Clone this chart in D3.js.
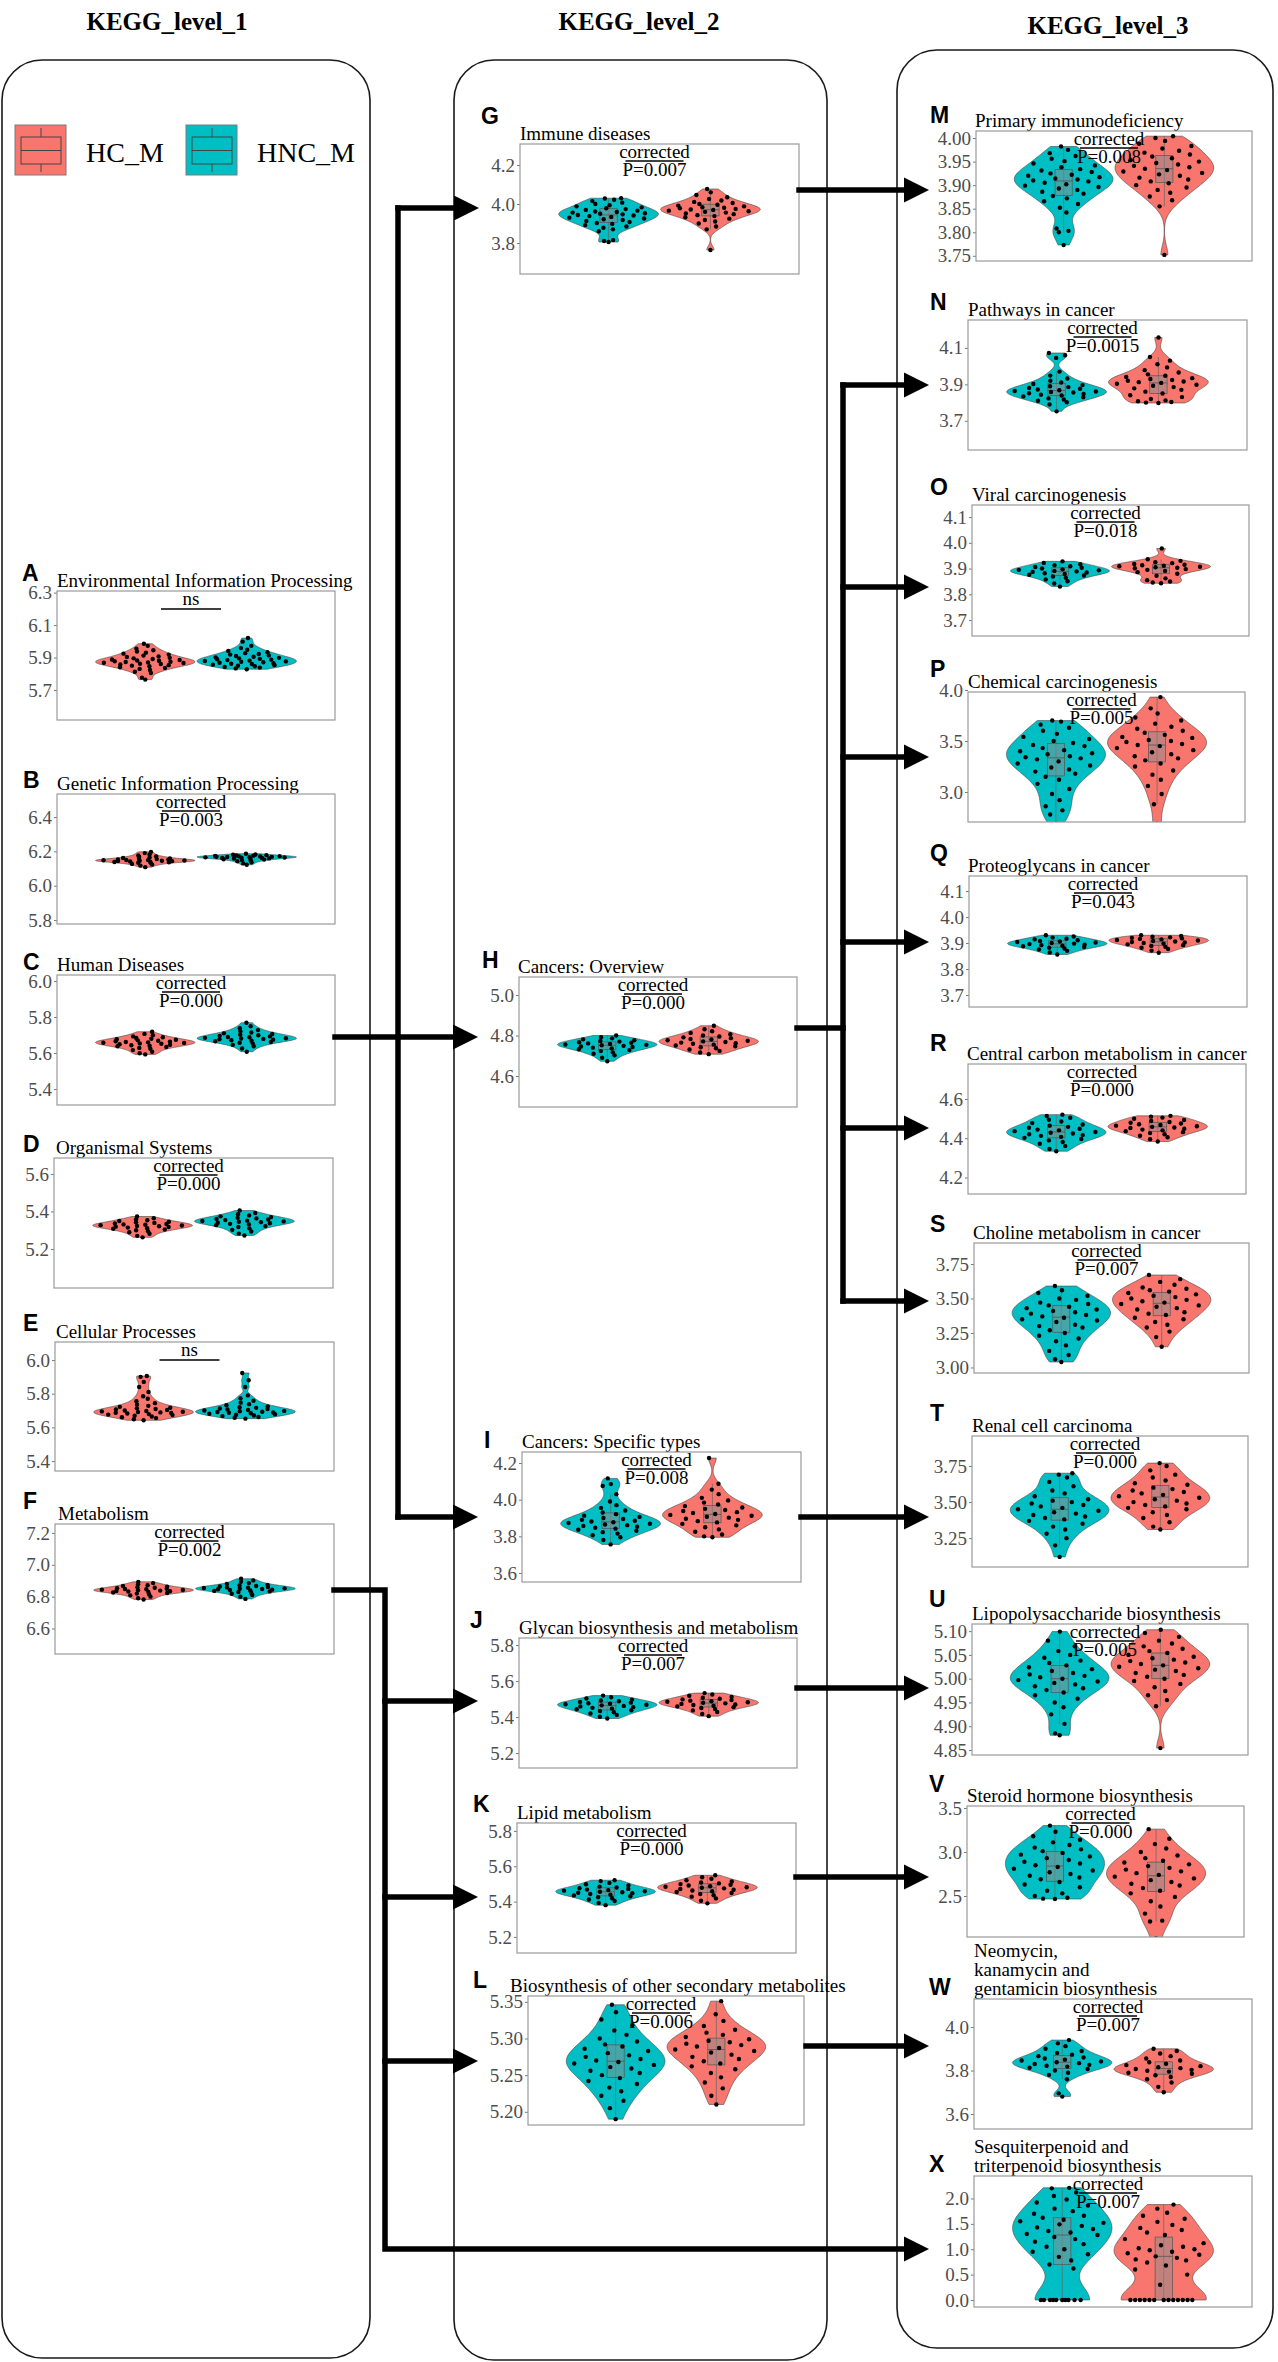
<!DOCTYPE html>
<html>
<head>
<meta charset="utf-8">
<script src="https://cdn.jsdelivr.net/npm/d3@7"></script>
<style>
  body { margin: 0; background: #fff; }
  text { font-family: "Liberation Serif", "Times New Roman", serif; }
</style>
</head>
<body>
<div id="chart"></div>
<script>
// KEGG level 1 / 2 / 3 violin panels, HC_M vs HNC_M

// ---------- data ----------
const panelIds = "ABCDEFGHIJKLMNOPQRSTUVWX".split("")
const panelTitles = [
  "Environmental Information Processing", "Genetic Information Processing", "Human Diseases",
  "Organismal Systems", "Cellular Processes", "Metabolism",
  "Immune diseases", "Cancers: Overview", "Cancers: Specific types",
  "Glycan biosynthesis and metabolism", "Lipid metabolism", "Biosynthesis of other secondary metabolites",
  "Primary immunodeficiency", "Pathways in cancer", "Viral carcinogenesis", "Chemical carcinogenesis",
  "Proteoglycans in cancer", "Central carbon metabolism in cancer", "Choline metabolism in cancer",
  "Renal cell carcinoma", "Lipopolysaccharide biosynthesis", "Steroid hormone biosynthesis",
  "Neomycin,\nkanamycin and\ngentamicin biosynthesis", "Sesquiterpenoid and\ntriterpenoid biosynthesis"
]
const pLabels = ["ns", "0.003", "0.000", "0.000", "ns", "0.002",
  "0.007", "0.000", "0.008", "0.007", "0.000", "0.006",
  "0.008", "0.0015", "0.018", "0.005", "0.043", "0.000", "0.007", "0.000", "0.005", "0.000", "0.007", "0.007"]
// which KEGG level each panel belongs to
const panelLevel = [1,1,1,1,1,1, 2,2,2,2,2,2, 3,3,3,3,3,3,3,3,3,3,3,3]
const groupNames = ["HC_M", "HNC_M"]

const yDomains = [
  [5.515, 6.31], [5.777, 6.534], [5.311, 6.033], [4.992, 5.685], [5.341, 6.107], [6.44, 7.256],
  [3.641, 4.308], [4.447, 5.089], [3.551, 4.26], [5.117, 5.839], [5.109, 5.845], [5.182, 5.358],
  [3.739, 4.015], [3.54, 4.253], [3.638, 4.147], [2.706, 3.98], [3.654, 4.158], [4.116, 4.778],
  [2.96, 3.902], [3.05, 3.958], [4.8395, 5.115], [2.034, 3.523], [3.531, 4.129], [-0.138, 2.443]
]
const yTicks = [
  [5.7, 5.9, 6.1, 6.3], [5.8, 6.0, 6.2, 6.4], [5.4, 5.6, 5.8, 6.0], [5.2, 5.4, 5.6], [5.4, 5.6, 5.8, 6.0], [6.6, 6.8, 7.0, 7.2],
  [3.8, 4.0, 4.2], [4.6, 4.8, 5.0], [3.6, 3.8, 4.0, 4.2], [5.2, 5.4, 5.6, 5.8], [5.2, 5.4, 5.6, 5.8], [5.20, 5.25, 5.30, 5.35],
  [3.75, 3.80, 3.85, 3.90, 3.95, 4.00], [3.7, 3.9, 4.1], [3.7, 3.8, 3.9, 4.0, 4.1], [3.0, 3.5, 4.0], [3.7, 3.8, 3.9, 4.0, 4.1], [4.2, 4.4, 4.6],
  [3.00, 3.25, 3.50, 3.75], [3.25, 3.50, 3.75], [4.85, 4.90, 4.95, 5.00, 5.05, 5.10], [2.5, 3.0, 3.5], [3.6, 3.8, 4.0], [0.0, 0.5, 1.0, 1.5, 2.0]
]
const tickDecimals = [1,1,1,1,1,1, 1,1,1,1,1,2, 2,1,1,1,1,1,2,2,2,1,1,1]

// sample values (HC_M = hc, HNC_M = hnc)
const hcA = [5.764,5.776,5.805,5.812,5.823,5.83,5.836,5.84,5.846,5.85,5.853,5.857,5.86,5.862,5.866,5.868,5.87,5.872,5.874,5.877,5.88,5.882,5.885,5.888,5.891,5.895,5.898,5.903,5.907,5.912,5.918,5.924,5.93,5.937,5.945,5.955,5.972,5.985]
const hncA = [5.828,5.833,5.838,5.842,5.846,5.85,5.853,5.856,5.86,5.862,5.865,5.868,5.871,5.874,5.876,5.879,5.881,5.884,5.887,5.889,5.892,5.895,5.898,5.901,5.905,5.909,5.913,5.918,5.922,5.927,5.933,5.94,5.948,5.958,5.972,5.998,6.02]
const hcB = [6.108,6.117,6.123,6.127,6.131,6.134,6.136,6.138,6.14,6.141,6.143,6.144,6.145,6.146,6.147,6.148,6.149,6.15,6.152,6.153,6.155,6.157,6.159,6.161,6.164,6.167,6.171,6.176,6.182,6.19,6.197]
const hncB = [6.122,6.13,6.137,6.142,6.146,6.149,6.152,6.154,6.156,6.158,6.159,6.161,6.162,6.163,6.164,6.165,6.166,6.167,6.168,6.169,6.17,6.171,6.172,6.173,6.175,6.176,6.178,6.18,6.182,6.186]
const hcC = [5.592,5.598,5.607,5.616,5.623,5.628,5.633,5.637,5.64,5.643,5.646,5.648,5.651,5.653,5.655,5.657,5.659,5.661,5.663,5.665,5.668,5.67,5.673,5.676,5.679,5.683,5.687,5.692,5.698,5.706,5.718]
const hncC = [5.607,5.625,5.637,5.645,5.652,5.657,5.661,5.665,5.668,5.671,5.673,5.676,5.678,5.68,5.682,5.684,5.687,5.689,5.692,5.695,5.698,5.701,5.705,5.709,5.714,5.72,5.727,5.737,5.748,5.768]
const hcD = [5.262,5.27,5.281,5.289,5.295,5.3,5.304,5.308,5.311,5.314,5.317,5.319,5.321,5.323,5.325,5.327,5.329,5.331,5.333,5.336,5.339,5.342,5.345,5.349,5.353,5.358,5.364,5.373]
const hncD = [5.272,5.282,5.293,5.302,5.31,5.317,5.322,5.327,5.331,5.334,5.337,5.34,5.343,5.345,5.347,5.349,5.351,5.354,5.357,5.36,5.363,5.366,5.37,5.374,5.379,5.385,5.392,5.405]
const hcE = [5.642,5.648,5.655,5.66,5.665,5.669,5.673,5.676,5.679,5.682,5.685,5.687,5.689,5.691,5.693,5.695,5.697,5.7,5.703,5.706,5.709,5.713,5.717,5.722,5.728,5.735,5.744,5.755,5.77,5.785,5.81,5.84,5.87,5.9,5.905]
const hncE = [5.652,5.657,5.662,5.667,5.671,5.675,5.678,5.681,5.684,5.687,5.689,5.691,5.693,5.696,5.698,5.7,5.703,5.706,5.709,5.712,5.716,5.72,5.725,5.731,5.738,5.747,5.758,5.772,5.79,5.84,5.88,5.923]
const hcF = [6.782,6.79,6.8,6.808,6.814,6.819,6.823,6.826,6.829,6.832,6.834,6.836,6.838,6.84,6.842,6.844,6.846,6.848,6.85,6.853,6.856,6.859,6.863,6.867,6.872,6.878,6.885,6.893]
const hncF = [6.786,6.8,6.81,6.818,6.824,6.829,6.833,6.836,6.839,6.842,6.844,6.846,6.848,6.85,6.852,6.854,6.856,6.858,6.861,6.864,6.867,6.87,6.874,6.879,6.885,6.893,6.902,6.912]
const hcG = [3.764,3.87,3.885,3.9,3.91,3.918,3.925,3.932,3.938,3.943,3.948,3.952,3.956,3.96,3.963,3.966,3.969,3.972,3.975,3.978,3.981,3.984,3.988,3.992,3.996,4.0,4.005,4.011,4.018,4.026,4.035,4.046,4.06,4.077]
const hncG = [3.805,3.81,3.815,3.86,3.87,3.878,3.885,3.892,3.898,3.903,3.908,3.913,3.918,3.922,3.926,3.93,3.934,3.938,3.941,3.944,3.947,3.95,3.953,3.956,3.959,3.962,3.966,3.97,3.974,3.978,3.983,3.988,3.994,4.0,4.007,4.015,4.022,4.028,4.03]
const hcH = [4.708,4.716,4.724,4.731,4.737,4.742,4.747,4.751,4.755,4.759,4.762,4.765,4.768,4.771,4.774,4.777,4.78,4.783,4.787,4.791,4.795,4.8,4.806,4.813,4.821,4.831,4.848]
const hncH = [4.673,4.69,4.702,4.71,4.717,4.723,4.728,4.732,4.736,4.74,4.743,4.746,4.749,4.752,4.754,4.756,4.758,4.761,4.764,4.767,4.77,4.773,4.777,4.781,4.786,4.792,4.8]
const hcI = [3.795,3.8,3.81,3.825,3.838,3.85,3.86,3.868,3.876,3.883,3.89,3.896,3.902,3.907,3.912,3.917,3.922,3.927,3.932,3.938,3.944,3.95,3.957,3.965,3.974,3.984,3.996,4.01,4.03,4.055,4.087,4.227]
const hncI = [3.756,3.78,3.795,3.806,3.815,3.823,3.83,3.836,3.842,3.847,3.852,3.857,3.861,3.865,3.869,3.873,3.877,3.881,3.885,3.89,3.895,3.9,3.906,3.913,3.921,3.93,3.941,3.955,3.97,3.99,4.03,4.075,4.085,4.116]
const hcJ = [5.405,5.417,5.428,5.437,5.444,5.45,5.455,5.459,5.463,5.467,5.47,5.473,5.476,5.479,5.482,5.485,5.488,5.491,5.494,5.498,5.502,5.507,5.512,5.518,5.525,5.533]
const hncJ = [5.392,5.402,5.412,5.42,5.427,5.433,5.438,5.443,5.447,5.451,5.455,5.459,5.462,5.465,5.468,5.471,5.474,5.477,5.48,5.484,5.488,5.492,5.497,5.503,5.51,5.519]
const hcK = [5.39,5.405,5.418,5.428,5.436,5.443,5.449,5.454,5.459,5.463,5.467,5.471,5.475,5.478,5.481,5.484,5.487,5.491,5.495,5.499,5.503,5.508,5.514,5.521,5.529,5.538,5.549]
const hncK = [5.38,5.392,5.403,5.412,5.419,5.425,5.43,5.435,5.439,5.443,5.447,5.45,5.453,5.456,5.459,5.462,5.465,5.468,5.472,5.476,5.48,5.485,5.491,5.498,5.506,5.516,5.521]
const hcL = [5.21,5.222,5.232,5.24,5.247,5.253,5.258,5.262,5.266,5.269,5.272,5.275,5.278,5.281,5.283,5.285,5.287,5.289,5.291,5.293,5.295,5.297,5.299,5.302,5.305,5.308,5.312,5.317,5.324,5.333,5.351]
const hncL = [5.19,5.205,5.215,5.222,5.228,5.233,5.238,5.242,5.246,5.25,5.253,5.256,5.259,5.261,5.264,5.266,5.268,5.27,5.272,5.275,5.277,5.28,5.283,5.286,5.289,5.292,5.296,5.3,5.305,5.311,5.318,5.326,5.336,5.346]
const hcM = [3.752,3.855,3.868,3.876,3.884,3.89,3.895,3.9,3.904,3.908,3.912,3.916,3.92,3.923,3.926,3.929,3.932,3.935,3.938,3.941,3.944,3.947,3.95,3.953,3.957,3.961,3.965,3.969,3.973,3.978,3.983,3.988,3.994,4.0,4.004]
const hncM = [3.773,3.8,3.803,3.808,3.842,3.852,3.86,3.866,3.872,3.877,3.882,3.886,3.89,3.893,3.896,3.899,3.902,3.905,3.908,3.91,3.912,3.914,3.917,3.92,3.922,3.925,3.928,3.931,3.934,3.938,3.942,3.946,3.951,3.956,3.962,3.968,3.975,3.982]
const hcN = [3.798,3.8,3.803,3.807,3.812,3.82,3.83,3.84,3.85,3.86,3.87,3.878,3.885,3.892,3.898,3.903,3.908,3.912,3.916,3.92,3.924,3.929,3.934,3.94,3.947,3.955,3.965,3.978,3.993,4.01,4.03,4.05,4.157]
const hncN = [3.752,3.79,3.802,3.81,3.817,3.823,3.829,3.834,3.839,3.843,3.847,3.851,3.855,3.858,3.861,3.864,3.868,3.872,3.876,3.88,3.885,3.89,3.896,3.902,3.91,3.92,3.932,3.948,3.97,4.045,4.06,4.072]
const hcO = [3.843,3.846,3.85,3.855,3.862,3.872,3.88,3.886,3.891,3.895,3.898,3.901,3.903,3.905,3.907,3.909,3.911,3.913,3.915,3.918,3.921,3.925,3.93,3.936,3.978]
const hncO = [3.83,3.842,3.851,3.858,3.864,3.869,3.873,3.876,3.879,3.882,3.885,3.887,3.889,3.891,3.893,3.895,3.897,3.9,3.903,3.906,3.909,3.913,3.917,3.922,3.928]
const hcP = [2.69,2.88,2.98,3.06,3.12,3.17,3.21,3.25,3.28,3.31,3.33,3.35,3.37,3.39,3.41,3.43,3.45,3.46,3.47,3.49,3.5,3.51,3.53,3.54,3.56,3.58,3.6,3.62,3.64,3.67,3.7,3.73,3.77,3.82,3.93]
const hncP = [2.69,2.78,2.82,2.86,2.92,2.98,3.03,3.08,3.12,3.15,3.18,3.2,3.22,3.24,3.26,3.28,3.3,3.32,3.33,3.34,3.35,3.37,3.38,3.4,3.41,3.43,3.45,3.46,3.48,3.5,3.52,3.54,3.57,3.6,3.63,3.66,3.69,3.7]
const hcQ = [3.863,3.871,3.877,3.882,3.886,3.889,3.892,3.895,3.898,3.9,3.902,3.904,3.906,3.908,3.91,3.912,3.914,3.916,3.918,3.92,3.922,3.924,3.927,3.93]
const hncQ = [3.856,3.864,3.87,3.875,3.879,3.882,3.885,3.888,3.89,3.892,3.894,3.896,3.898,3.9,3.902,3.904,3.906,3.908,3.911,3.914,3.917,3.921,3.925,3.93]
const hcR = [4.383,4.395,4.405,4.413,4.42,4.426,4.431,4.436,4.44,4.444,4.448,4.452,4.455,4.458,4.461,4.464,4.467,4.471,4.475,4.479,4.483,4.488,4.493,4.499,4.505,4.51,4.514]
const hncR = [4.334,4.345,4.36,4.372,4.381,4.389,4.396,4.402,4.407,4.412,4.416,4.42,4.424,4.428,4.432,4.436,4.44,4.444,4.448,4.453,4.458,4.464,4.47,4.477,4.485,4.494,4.504,4.513,4.52]
const hcS = [3.15,3.22,3.26,3.29,3.31,3.33,3.35,3.36,3.38,3.39,3.4,3.42,3.43,3.44,3.45,3.46,3.47,3.48,3.49,3.5,3.51,3.52,3.53,3.54,3.55,3.56,3.57,3.58,3.6,3.62,3.64,3.67]
const hncS = [3.04,3.06,3.09,3.12,3.16,3.19,3.21,3.23,3.25,3.27,3.29,3.3,3.31,3.33,3.34,3.35,3.36,3.37,3.38,3.39,3.4,3.41,3.42,3.43,3.44,3.45,3.46,3.47,3.49,3.5,3.52,3.54,3.56,3.59]
const hcT = [3.31,3.33,3.36,3.39,3.41,3.43,3.45,3.46,3.47,3.48,3.49,3.5,3.51,3.52,3.53,3.54,3.55,3.56,3.57,3.58,3.59,3.6,3.62,3.63,3.65,3.67,3.69,3.72,3.75,3.77]
const hncT = [3.12,3.2,3.25,3.28,3.31,3.33,3.35,3.37,3.38,3.39,3.4,3.41,3.42,3.43,3.44,3.45,3.46,3.47,3.48,3.49,3.5,3.51,3.52,3.54,3.56,3.58,3.61,3.64,3.67,3.69,3.7]
const hcU = [4.854,4.942,4.955,4.965,4.974,4.982,4.989,4.995,5.0,5.004,5.008,5.012,5.016,5.019,5.022,5.025,5.028,5.031,5.034,5.037,5.04,5.043,5.046,5.05,5.054,5.058,5.063,5.068,5.074,5.08,5.088,5.096,5.103]
const hncU = [4.881,4.885,4.905,4.925,4.94,4.95,4.958,4.965,4.971,4.976,4.98,4.984,4.988,4.991,4.994,4.997,5.0,5.003,5.006,5.009,5.012,5.016,5.02,5.024,5.028,5.033,5.038,5.044,5.05,5.058,5.068,5.08,5.099]
const hcV = [2.02,2.21,2.22,2.3,2.38,2.44,2.49,2.53,2.56,2.59,2.62,2.64,2.66,2.68,2.7,2.72,2.74,2.76,2.78,2.8,2.82,2.84,2.86,2.88,2.9,2.93,2.96,3.0,3.04,3.09,3.15,3.26]
const hncV = [2.466,2.47,2.48,2.5,2.53,2.56,2.6,2.63,2.66,2.69,2.71,2.73,2.75,2.77,2.79,2.81,2.83,2.85,2.87,2.89,2.91,2.93,2.95,2.97,2.99,3.01,3.03,3.05,3.08,3.11,3.14,3.18,3.23,3.3]
const hcW = [3.7,3.725,3.745,3.76,3.77,3.778,3.785,3.79,3.795,3.799,3.803,3.807,3.811,3.815,3.82,3.825,3.831,3.838,3.846,3.855,3.866,3.878,3.89,3.9]
const hncW = [3.68,3.695,3.76,3.78,3.79,3.8,3.807,3.813,3.818,3.822,3.826,3.83,3.834,3.838,3.842,3.846,3.85,3.855,3.86,3.866,3.873,3.881,3.89,3.9,3.912,3.925,3.94]
const hcX = [0,0,0,0,0,0,0,0,0,0,0,0,0,0.3,0.5,0.6,0.68,0.74,0.78,0.8,0.83,0.86,0.89,0.92,0.95,0.98,1.0,1.02,1.05,1.08,1.12,1.2,1.28,1.33,1.38,1.42,1.48,1.54,1.6,1.66,1.72,1.8,1.88]
const hncX = [0,0,0,0,0,0,0,0,0,0,0.62,0.7,0.78,0.85,0.9,0.95,1.0,1.05,1.1,1.15,1.2,1.24,1.28,1.3,1.33,1.36,1.4,1.43,1.46,1.49,1.52,1.55,1.58,1.62,1.66,1.7,1.75,1.8,1.86,1.92,1.98,2.05,2.12,2.2,2.21]

const hcValues = [hcA,hcB,hcC,hcD,hcE,hcF,hcG,hcH,hcI,hcJ,hcK,hcL,hcM,hcN,hcO,hcP,hcQ,hcR,hcS,hcT,hcU,hcV,hcW,hcX]
const hncValues = [hncA,hncB,hncC,hncD,hncE,hncF,hncG,hncH,hncI,hncJ,hncK,hncL,hncM,hncN,hncO,hncP,hncQ,hncR,hncS,hncT,hncU,hncV,hncW,hncX]

// ---------- layout ----------
const W = 1278, H = 2362
const colors = { "HC_M": "#F8766D", "HNC_M": "#00BFC4" }

// plot box per panel: x0, x1, y0, y1, letter x, letter baseline, title x
const boxes = [
  [57,335,591,720,22,581,57], [57,335,794,924,23,788,57], [57,335,975,1105,23,970,57],
  [54,333,1158,1288,23,1152,56], [55,334,1342,1471,23,1331,56], [55,334,1524,1654,23,1509,58],
  [520,799,144,274,481,124,520], [519,797,977,1107,482,968,518], [522,801,1452,1582,484,1448,522],
  [519,797,1638,1768,470,1628,519], [517,796,1823,1953,473,1812,517], [528,804,1996,2125,473,1988,510],
  [976,1252,131,261,930,123,975], [968,1247,320,450,930,310,968], [972,1249,505,636,930,495,972],
  [968,1245,692,822,930,677,968], [969,1247,876,1007,930,861,968], [968,1246,1064,1194,930,1051,967],
  [974,1249,1243,1373,930,1232,973], [972,1248,1436,1567,930,1421,972], [972,1248,1624,1755,929,1607,972],
  [967,1244,1806,1937,929,1792,967], [974,1252,1999,2129,929,1995,974], [974,1252,2176,2307,929,2172,974]
]

// rounded frames around each KEGG level
const frames = [[2, 60, 370, 2358], [454, 60, 827, 2360], [897, 50, 1273, 2348]]
const levelTitles = [["KEGG_level_1", 167, 30], ["KEGG_level_2", 639, 30], ["KEGG_level_3", 1108, 34]]

// arrows between levels (polylines, last point is the arrow tip)
const links = [
  { pts: [[398, 208], [398, 1517]] },
  { pts: [[398, 208], [479, 208]], arrow: true },
  { pts: [[398, 1517], [478, 1517]], arrow: true },
  { pts: [[335, 1037], [478, 1037]], arrow: true },
  { pts: [[334, 1590], [385, 1590], [385, 2249], [929, 2249]], arrow: true },
  { pts: [[385, 1701], [478, 1701]], arrow: true },
  { pts: [[385, 1897], [478, 1897]], arrow: true },
  { pts: [[385, 2061], [478, 2061]], arrow: true },
  { pts: [[799, 190], [929, 190]], arrow: true },
  { pts: [[797, 1028], [843, 1028]] },
  { pts: [[843, 385], [843, 1301]] },
  { pts: [[843, 385], [929, 385]], arrow: true },
  { pts: [[843, 587], [929, 587]], arrow: true },
  { pts: [[843, 757], [929, 757]], arrow: true },
  { pts: [[843, 942], [929, 942]], arrow: true },
  { pts: [[843, 1128], [929, 1128]], arrow: true },
  { pts: [[843, 1301], [929, 1301]], arrow: true },
  { pts: [[801, 1517], [929, 1517]], arrow: true },
  { pts: [[797, 1688], [929, 1688]], arrow: true },
  { pts: [[796, 1877], [929, 1877]], arrow: true },
  { pts: [[806, 2046], [929, 2046]], arrow: true }
]

const svg = d3.select("#chart").append("svg")
  .attr("width", W).attr("height", H)
  .attr("viewBox", `0 0 ${W} ${H}`)

// frames
svg.selectAll(".frame").data(frames).enter().append("rect")
  .attr("class", "frame")
  .attr("x", d => d[0]).attr("y", d => d[1])
  .attr("width", d => d[2] - d[0]).attr("height", d => d[3] - d[1])
  .attr("rx", 40).attr("ry", 40)
  .attr("fill", "none").attr("stroke", "#1a1a1a").attr("stroke-width", 1.6)

svg.selectAll(".levelTitle").data(levelTitles).enter().append("text")
  .attr("x", d => d[1]).attr("y", d => d[2])
  .attr("text-anchor", "middle")
  .style("font-size", "25px").style("font-weight", "bold")
  .text(d => d[0])

// legend
const legendX = [15, 186]
groupNames.forEach(function(name, k) {
  const lx = legendX[k]
  const lg = svg.append("g")
  lg.append("rect").attr("x", lx).attr("y", 125).attr("width", 51).attr("height", 50)
    .attr("fill", colors[name]).attr("stroke", "#7a7a7a").attr("stroke-width", 1)
  lg.append("rect").attr("x", lx + 6).attr("y", 137).attr("width", 40).attr("height", 27)
    .attr("fill", "none").attr("stroke", "#444").attr("stroke-width", 1)
  lg.append("line").attr("x1", lx + 6).attr("x2", lx + 46).attr("y1", 150.5).attr("y2", 150.5)
    .attr("stroke", "#444").attr("stroke-width", 1)
  lg.append("line").attr("x1", lx + 26).attr("x2", lx + 26).attr("y1", 128).attr("y2", 137)
    .attr("stroke", "#444").attr("stroke-width", 1)
  lg.append("line").attr("x1", lx + 26).attr("x2", lx + 26).attr("y1", 164).attr("y2", 172)
    .attr("stroke", "#444").attr("stroke-width", 1)
  lg.append("text").attr("x", lx + 71).attr("y", 162)
    .style("font-size", "28px").text(name)
})

// ---------- helpers ----------
function bandwidth(v) {
  const s = d3.deviation(v)
  const iqr = d3.quantile(v, 0.75) - d3.quantile(v, 0.25)
  let lo = Math.min(s, iqr / 1.34)
  if (!lo) lo = s || 1
  return 0.9 * lo * Math.pow(v.length, -0.2)
}

function density(v, bw, at) {
  let s = 0
  for (const x of v) {
    const u = (at - x) / bw
    s += Math.exp(-0.5 * u * u)
  }
  return s / (v.length * bw * Math.sqrt(2 * Math.PI))
}

// van der Corput sequence, used to spread the dots like a quasirandom plot
function vdc(n) {
  let v = 0, denom = 1
  while (n) { denom *= 2; v += (n % 2) / denom; n = Math.floor(n / 2) }
  return v
}

// ---------- panels ----------
panelIds.forEach(function(id, i) {
  const [x0, x1, y0, y1, lx, ly, tx] = boxes[i]
  const order = panelLevel[i] == 1 ? ["HC_M", "HNC_M"] : ["HNC_M", "HC_M"]
  const y = d3.scaleLinear().domain(yDomains[i]).range([y1, y0])
  const x = d3.scalePoint().domain(order).range([x0, x1]).padding(0.87)
  const step = x.step()
  const hw = step * 0.49

  const g = svg.append("g").attr("class", "panel")

  svg.append("clipPath").attr("id", "clip" + id).append("rect")
    .attr("x", x0).attr("y", y0).attr("width", x1 - x0).attr("height", y1 - y0)

  // panel letter and title
  g.append("text").attr("x", lx).attr("y", ly)
    .style("font-family", '"Liberation Sans", Arial, sans-serif')
    .style("font-size", "23px").style("font-weight", "bold")
    .text(id)
  const lines = panelTitles[i].split("\n")
  lines.forEach(function(line, k) {
    g.append("text").attr("x", tx).attr("y", y0 - 4 - (lines.length - 1 - k) * 19)
      .style("font-size", "19px").text(line)
  })

  // y axis
  const axis = d3.axisLeft(y).tickValues(yTicks[i]).tickSize(3).tickPadding(2)
    .tickFormat(d3.format("." + tickDecimals[i] + "f"))
  const ax = g.append("g").attr("transform", `translate(${x0},0)`).call(axis)
  ax.select(".domain").remove()
  ax.selectAll(".tick line").attr("stroke", "#777")
  ax.selectAll(".tick text")
    .style("font-family", '"Liberation Serif", "Times New Roman", serif')
    .style("font-size", "19px").attr("fill", "#4d4d4d")

  const plot = g.append("g").attr("clip-path", `url(#clip${id})`)

  order.forEach(function(name) {
    const v = name == "HC_M" ? hcValues[i] : hncValues[i]
    const cx = x(name)
    const bw = bandwidth(v)
    const lo = d3.min(v), hi = d3.max(v)
    const grid = d3.range(101).map(k => lo + (hi - lo) * k / 100)
    const dens = grid.map(t => [t, density(v, bw, t)])
    const dmax = d3.max(dens, d => d[1])

    const area = d3.area()
      .curve(d3.curveBasis)
      .y(d => y(d[0]))
      .x0(d => cx - d[1] / dmax * hw)
      .x1(d => cx + d[1] / dmax * hw)

    plot.append("path").datum(dens)
      .attr("d", area)
      .attr("fill", colors[name])
      .attr("stroke", "#454545").attr("stroke-width", 0.6)

    // boxplot (only the level 2 and 3 panels show one)
    const sorted = v.slice().sort(d3.ascending)
    if (panelLevel[i] > 1) {
      const q1 = d3.quantile(sorted, 0.25), q2 = d3.quantile(sorted, 0.5), q3 = d3.quantile(sorted, 0.75)
      const iqr = q3 - q1
      const wLo = d3.min(sorted.filter(d => d >= q1 - 1.5 * iqr))
      const wHi = d3.max(sorted.filter(d => d <= q3 + 1.5 * iqr))
      const bx = step * 0.085
      plot.append("line").attr("x1", cx).attr("x2", cx).attr("y1", y(wLo)).attr("y2", y(wHi))
        .attr("stroke", "#666").attr("stroke-width", 0.7)
      plot.append("rect").attr("x", cx - bx).attr("width", 2 * bx)
        .attr("y", y(q3)).attr("height", Math.max(0.5, y(q1) - y(q3)))
        .attr("fill", "#8c8c8c").attr("fill-opacity", 0.5)
        .attr("stroke", "#555").attr("stroke-width", 0.7)
      plot.append("line").attr("x1", cx - bx).attr("x2", cx + bx).attr("y1", y(q2)).attr("y2", y(q2))
        .attr("stroke", "#555").attr("stroke-width", 0.8)
    }

    // dots spread inside the violin
    const dots = sorted.map((val, r) => ({
      val: val,
      off: (vdc(r + 1) * 2 - 1) * 0.9 * hw * density(v, bw, val) / dmax
    }))
    plot.selectAll(null).data(dots).enter().append("circle")
      .attr("cx", d => cx + d.off)
      .attr("cy", d => y(d.val))
      .attr("r", 2.2)
      .attr("fill", "#000")
  })

  // frame of the plot
  g.append("rect").attr("x", x0).attr("y", y0).attr("width", x1 - x0).attr("height", y1 - y0)
    .attr("fill", "none").attr("stroke", "#9a9a9a").attr("stroke-width", 1.2)

  // significance annotation
  const ac = (x0 + x1) / 2 - 5
  if (pLabels[i] == "ns") {
    g.append("text").attr("x", ac).attr("y", y0 + 14).attr("text-anchor", "middle")
      .style("font-size", "19px").text("ns")
    g.append("line").attr("x1", ac - 30).attr("x2", ac + 30).attr("y1", y0 + 18).attr("y2", y0 + 18)
      .attr("stroke", "#000").attr("stroke-width", 1.5)
  } else {
    g.append("text").attr("x", ac).attr("y", y0 + 14).attr("text-anchor", "middle")
      .style("font-size", "19px").text("corrected")
    g.append("line").attr("x1", ac - 29).attr("x2", ac + 29).attr("y1", y0 + 17).attr("y2", y0 + 17)
      .attr("stroke", "#000").attr("stroke-width", 1.3)
    g.append("text").attr("x", ac).attr("y", y0 + 32).attr("text-anchor", "middle")
      .style("font-size", "19px").text("P=" + pLabels[i])
  }
})

// ---------- arrows ----------
const line = d3.line()
links.forEach(function(l) {
  const pts = l.pts.map(p => p.slice())
  if (l.arrow) {
    const last = pts[pts.length - 1]
    const tip = last.slice()
    last[0] -= 24
    svg.append("path")
      .attr("d", `M${tip[0]},${tip[1]}L${tip[0] - 25},${tip[1] - 12.5}L${tip[0] - 25},${tip[1] + 12.5}Z`)
      .attr("fill", "#000")
  }
  svg.append("path").attr("d", line(pts))
    .attr("fill", "none").attr("stroke", "#000").attr("stroke-width", 5.5)
    .attr("stroke-linejoin", "miter").attr("stroke-linecap", "square")
})
</script>
</body>
</html>
